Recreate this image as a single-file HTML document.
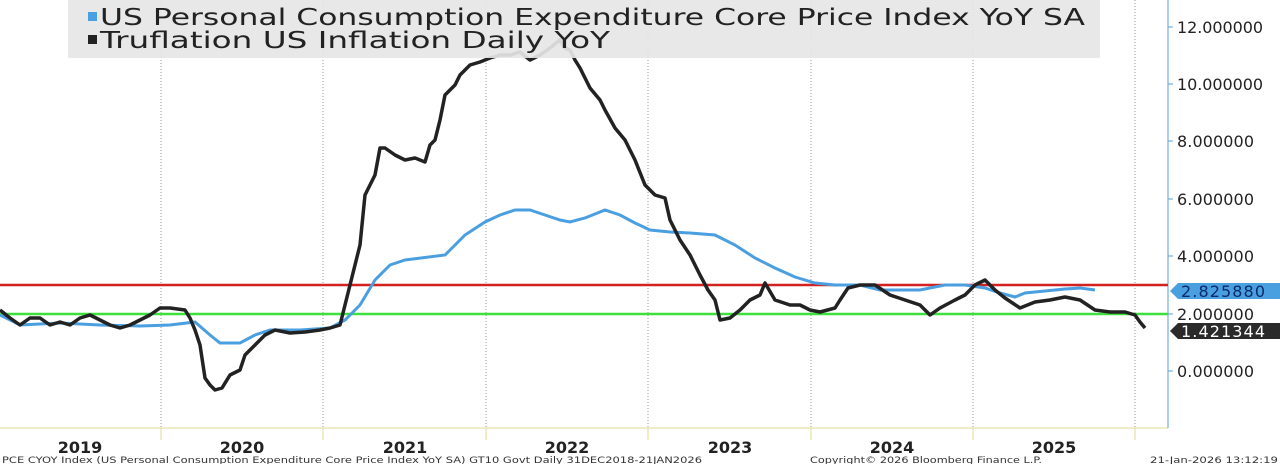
<!DOCTYPE html><html><head><style>
body{margin:0;background:#fff;width:1280px;height:464px;overflow:hidden;font-family:"Liberation Sans",sans-serif}
</style></head><body>
<svg width="1280" height="464" xmlns="http://www.w3.org/2000/svg" font-family="Liberation Sans, sans-serif">
<g stroke="#999" stroke-dasharray="1,2" stroke-width="1">
<line x1="161" y1="0" x2="161" y2="428"/><line x1="323" y1="0" x2="323" y2="428"/><line x1="486" y1="0" x2="486" y2="428"/><line x1="648" y1="0" x2="648" y2="428"/><line x1="811" y1="0" x2="811" y2="428"/><line x1="973" y1="0" x2="973" y2="428"/><line x1="1135" y1="0" x2="1135" y2="428"/>
</g>
<g stroke="#e0d890" stroke-width="1">
<line x1="0" y1="428" x2="1168" y2="428"/>
<line x1="161" y1="428" x2="161" y2="440"/><line x1="323" y1="428" x2="323" y2="440"/><line x1="486" y1="428" x2="486" y2="440"/><line x1="648" y1="428" x2="648" y2="440"/><line x1="811" y1="428" x2="811" y2="440"/><line x1="973" y1="428" x2="973" y2="440"/><line x1="1135" y1="428" x2="1135" y2="440"/>
</g>
<line x1="1168" y1="0" x2="1168" y2="428" stroke="#5aa0d0" stroke-width="1"/>
<g stroke="#5aa0d0"><line x1="1168" y1="27" x2="1173" y2="27"/><line x1="1168" y1="84" x2="1173" y2="84"/><line x1="1168" y1="141" x2="1173" y2="141"/><line x1="1168" y1="199" x2="1173" y2="199"/><line x1="1168" y1="256" x2="1173" y2="256"/><line x1="1168" y1="314" x2="1173" y2="314"/><line x1="1168" y1="371" x2="1173" y2="371"/></g>
<g font-size="16" fill="#222" font-family="DejaVu Sans, sans-serif">
<text x="1177" y="33" textLength="86">12.000000</text><text x="1177" y="90" textLength="86">10.000000</text><text x="1177" y="147" textLength="77">8.000000</text><text x="1177" y="205" textLength="77">6.000000</text><text x="1177" y="262" textLength="77">4.000000</text><text x="1177" y="320" textLength="77">2.000000</text><text x="1177" y="377" textLength="77">0.000000</text>
</g>
<line x1="0" y1="285" x2="1168" y2="285" stroke="#d42020" stroke-width="2.5"/>
<line x1="0" y1="314" x2="1168" y2="314" stroke="#3ee03e" stroke-width="2.5"/>
<polyline fill="none" stroke="#4a9fe0" stroke-width="3" points="0,315 20,325 60,323 100,325 140,326 170,325 195,322 210,335 220,343 240,343 255,335 270,330 300,330 330,328 345,320 360,305 375,280 390,265 405,260 445,255 465,235 485,222 500,215 515,210 530,210 545,215 560,220 570,222 585,218 605,210 620,215 635,223 650,230 670,232 690,233 715,235 735,245 755,258 775,268 795,277 815,283 835,285 860,285 880,290 900,290 920,290 945,285 965,285 985,288 1000,293 1015,297 1025,293 1045,291 1065,289 1080,288 1095,290"/>
<polyline fill="none" stroke="#222" stroke-width="3.5" stroke-linejoin="round" points="0,310 10,318 20,325 30,318 40,318 50,325 60,322 70,325 80,318 90,315 100,320 110,325 120,328 130,325 140,320 150,315 160,308 170,308 185,310 190,318 195,330 200,345 205,378 210,385 215,390 222,388 230,375 240,370 245,355 255,345 265,335 275,330 290,333 305,332 320,330 330,328 340,325 345,305 350,285 355,265 360,245 365,195 370,185 375,175 380,148 385,148 395,155 405,160 415,158 425,162 430,145 435,140 440,120 445,95 455,85 460,75 470,65 480,62 490,58 500,55 510,55 520,52 530,60 540,55 550,48 560,40 565,48 570,50 575,60 580,68 590,88 600,100 605,110 615,128 625,140 635,160 645,185 655,195 665,198 670,220 680,240 690,255 700,275 708,290 715,300 720,320 730,318 740,310 750,300 760,295 765,283 775,300 790,305 800,305 810,310 820,312 835,308 840,300 848,288 860,285 875,285 890,295 905,300 920,305 930,315 940,308 955,300 965,295 975,285 985,280 995,290 1005,298 1020,308 1035,302 1050,300 1065,297 1080,300 1095,310 1110,312 1125,312 1135,315 1140,322 1145,328"/>
<rect x="68" y="0" width="1032" height="58" fill="#e6e6e6" fill-opacity="0.92"/>
<rect x="88" y="12" width="9" height="9" fill="#4a9fe0"/>
<rect x="88" y="35" width="9" height="9" fill="#222"/>
<g font-size="23" fill="#222" font-family="DejaVu Sans, sans-serif">
<text x="100" y="25" textLength="985" lengthAdjust="spacingAndGlyphs">US Personal Consumption Expenditure Core Price Index YoY SA</text>
<text x="100" y="48" textLength="510" lengthAdjust="spacingAndGlyphs">Truflation US Inflation Daily YoY</text>
</g>
<polygon points="1170,291 1178,283 1280,283 1280,299 1178,299" fill="#4a9fe0"/>
<text x="1181" y="297" font-size="16" fill="#0a2a6a" font-family="DejaVu Sans, sans-serif" textLength="84">2.825880</text>
<polygon points="1170,331 1178,323 1280,323 1280,339 1178,339" fill="#2a2a2a"/>
<text x="1181" y="337" font-size="16" fill="#fff" font-family="DejaVu Sans, sans-serif" textLength="84">1.421344</text>
<g font-size="16" fill="#222" text-anchor="middle" font-family="DejaVu Sans, sans-serif" font-weight="bold">
<text x="80" y="453">2019</text><text x="242" y="453">2020</text><text x="405" y="453">2021</text><text x="567" y="453">2022</text><text x="730" y="453">2023</text><text x="892" y="453">2024</text><text x="1054" y="453">2025</text>
</g>
<g font-size="9" fill="#333" font-family="DejaVu Sans, sans-serif">
<text x="2" y="463" textLength="700" lengthAdjust="spacingAndGlyphs">PCE CYOY Index (US Personal Consumption Expenditure Core Price Index YoY SA) GT10  Govt Daily 31DEC2018-21JAN2026</text>
<text x="810" y="463" textLength="232" lengthAdjust="spacingAndGlyphs">Copyright© 2026 Bloomberg Finance L.P.</text>
<text x="1150" y="463" textLength="128" lengthAdjust="spacingAndGlyphs">21-Jan-2026 13:12:19</text>
</g>
</svg>
</body></html>
